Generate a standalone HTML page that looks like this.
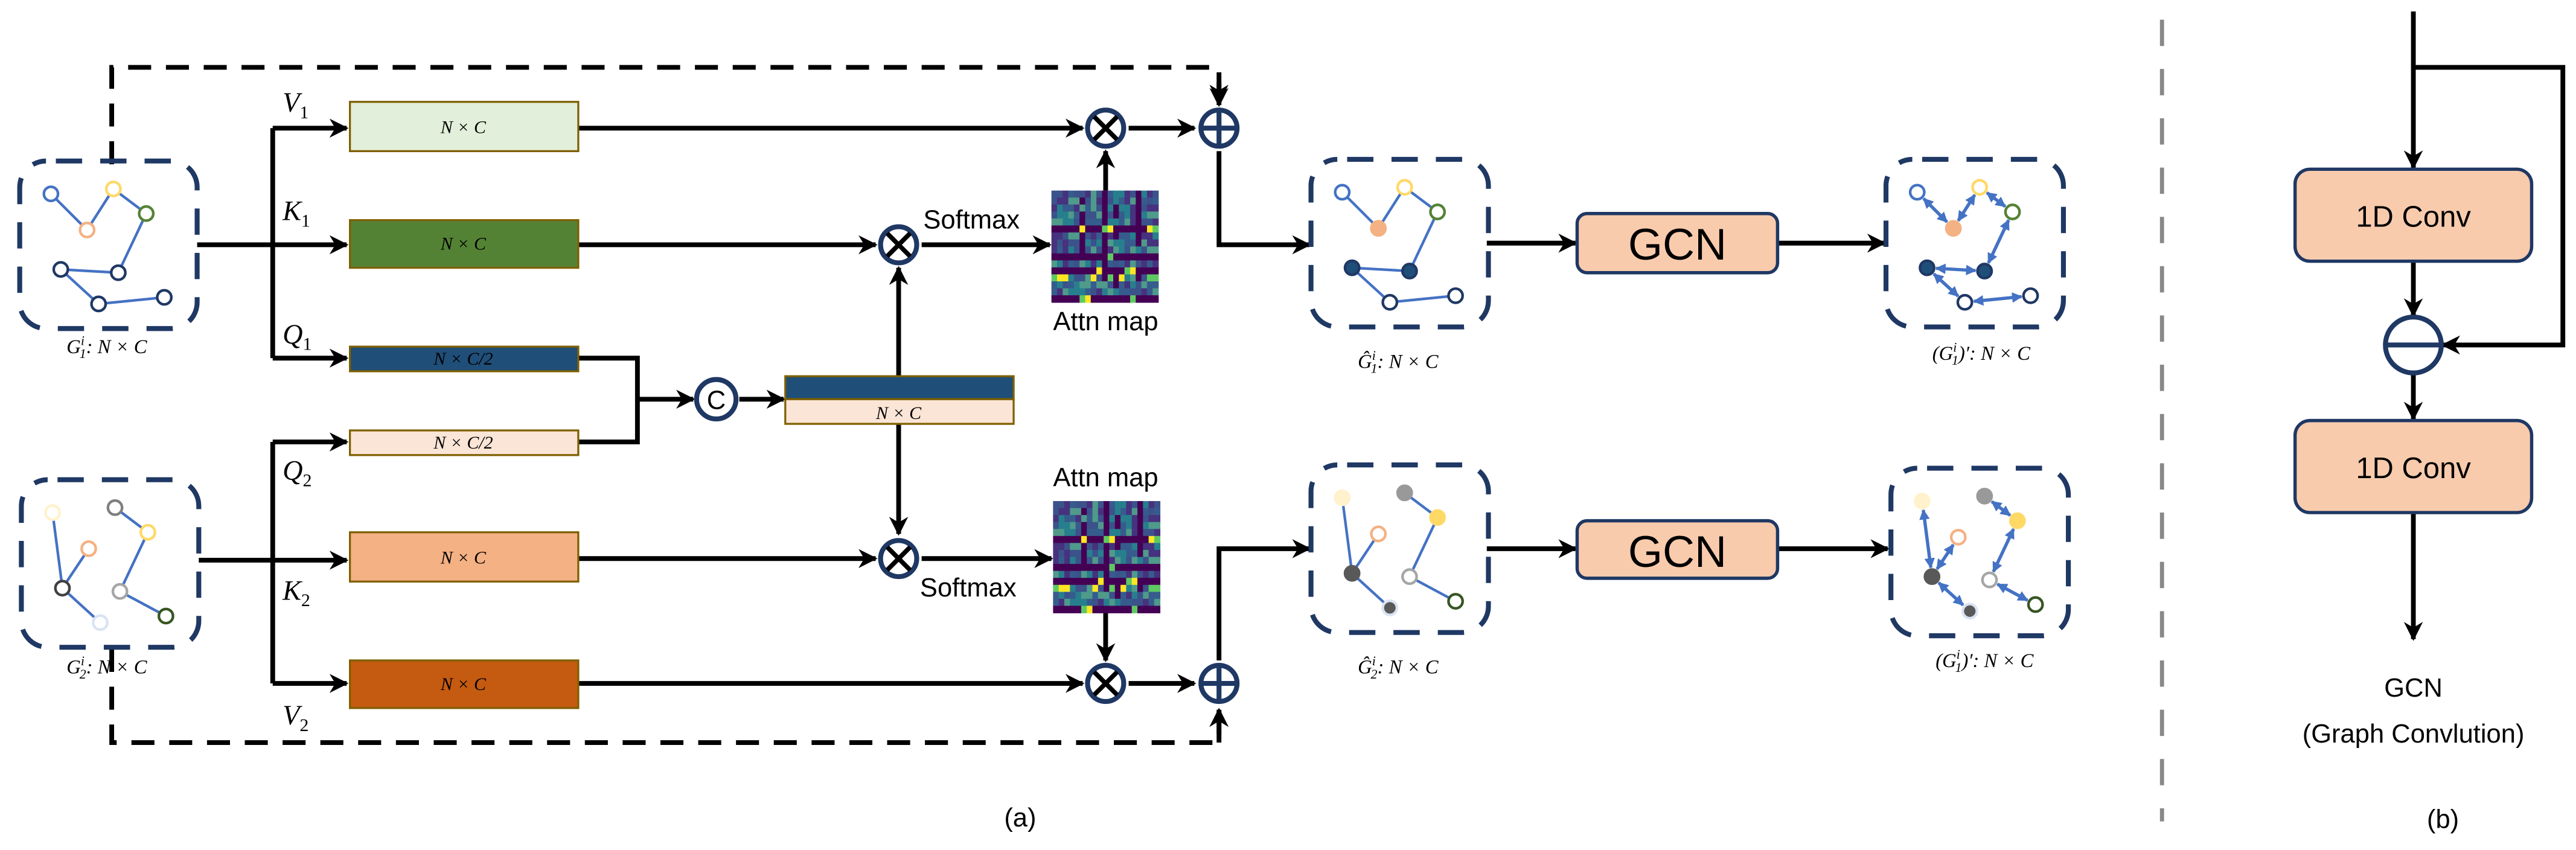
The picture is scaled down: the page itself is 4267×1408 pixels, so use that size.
<!DOCTYPE html>
<html><head><meta charset="utf-8"><style>
html,body{margin:0;padding:0;background:#fff;}
svg{display:block;}
.t{font-family:"Liberation Sans",sans-serif;fill:#000;}
.m{font-family:"Liberation Serif",serif;font-style:italic;fill:#000;}
</style></head><body>
<svg id="s" xmlns="http://www.w3.org/2000/svg" width="4267" height="1408" viewBox="0 0 1568 517.4">
<defs>
<marker id="a" viewBox="0 0 10 10" refX="9" refY="5" markerWidth="4" markerHeight="4" orient="auto-start-reverse" markerUnits="strokeWidth"><path d="M0,0 L10,5 L0,10 L3,5 z" fill="#000"/></marker>
<marker id="b" viewBox="0 0 10 10" refX="9" refY="5" markerWidth="3.2" markerHeight="3.2" orient="auto-start-reverse" markerUnits="strokeWidth"><path d="M0,0 L10,5 L0,10 z" fill="#4472c4"/></marker>
</defs>
<g fill="none" stroke="#000" stroke-width="2.9">
<path d="M68,100 V41 H742 V62" stroke-dasharray="14,9" marker-end="url(#a)"/>
<path d="M68,395 V452 H742 V432" stroke-dasharray="14,9" marker-end="url(#a)"/>
<path d="M742,452 V432" marker-end="url(#a)"/>
<path d="M742,50 V64" marker-end="url(#a)"/>
<path d="M120,149 H211" marker-end="url(#a)"/>
<path d="M166,78 V218"/>
<path d="M166,78 H211" marker-end="url(#a)"/>
<path d="M166,218 H211" marker-end="url(#a)"/>
<path d="M121,341 H211" marker-end="url(#a)"/>
<path d="M166,269 V416"/>
<path d="M166,269 H211" marker-end="url(#a)"/>
<path d="M166,416 H211" marker-end="url(#a)"/>
<path d="M352,78 H659" marker-end="url(#a)"/>
<path d="M352,149 H533" marker-end="url(#a)"/>
<path d="M352,340 H533" marker-end="url(#a)"/>
<path d="M352,416 H659" marker-end="url(#a)"/>
<path d="M352,218 H388 V269 H352"/>
<path d="M388,243 H422" marker-end="url(#a)"/>
<path d="M450,243 H477" marker-end="url(#a)"/>
<path d="M547,229 V163" marker-end="url(#a)"/>
<path d="M547,258 V325" marker-end="url(#a)"/>
<path d="M561,149 H639" marker-end="url(#a)"/>
<path d="M561,340 H640" marker-end="url(#a)"/>
<path d="M673,116 V92" marker-end="url(#a)"/>
<path d="M673,373 V402" marker-end="url(#a)"/>
<path d="M687,78 H727" marker-end="url(#a)"/>
<path d="M687,416 H727" marker-end="url(#a)"/>
<path d="M742,92 V149 H797" marker-end="url(#a)"/>
<path d="M742,402 V334 H797" marker-end="url(#a)"/>
<path d="M905,148 H959" marker-end="url(#a)"/>
<path d="M905,334 H959" marker-end="url(#a)"/>
<path d="M1082,148 H1147" marker-end="url(#a)"/>
<path d="M1082,334 H1149" marker-end="url(#a)"/>
<path d="M1469,7 V102" marker-end="url(#a)"/>
<path d="M1469,41 H1560 V210 H1487" marker-end="url(#a)"/>
<path d="M1469,159 V192" marker-end="url(#a)"/>
<path d="M1469,227 V255" marker-end="url(#a)"/>
<path d="M1469,312 V389" marker-end="url(#a)"/>
</g>
<g stroke="#7f6000" stroke-width="1.2">
<rect x="213" y="62" width="139" height="30" fill="#e2efda"/>
<rect x="213" y="134" width="139" height="29" fill="#548235"/>
<rect x="213" y="211" width="139" height="15" fill="#1f4e79"/>
<rect x="213" y="262" width="139" height="15" fill="#fbe5d6"/>
<rect x="213" y="324" width="139" height="30" fill="#f4b183"/>
<rect x="213" y="402" width="139" height="29" fill="#c55a11"/>
<rect x="478" y="229" width="139" height="14" fill="#1f4e79"/>
<rect x="478" y="243" width="139" height="15" fill="#fbe5d6"/>
</g>
<g class="m" font-size="11" text-anchor="middle">
<text x="282" y="81">N × C</text><text x="282" y="152">N × C</text>
<text x="282" y="222">N × C/2</text><text x="282" y="273">N × C/2</text>
<text x="282" y="343">N × C</text><text x="282" y="420">N × C</text>
<text x="547" y="255">N × C</text>
</g>
<g class="m" font-size="17">
<text x="172" y="68">V<tspan font-size="11" dy="4" font-style="normal">1</tspan></text>
<text x="172" y="134">K<tspan font-size="11" dy="4" font-style="normal">1</tspan></text>
<text x="172" y="209">Q<tspan font-size="11" dy="4" font-style="normal">1</tspan></text>
<text x="172" y="292">Q<tspan font-size="11" dy="4" font-style="normal">2</tspan></text>
<text x="172" y="365">K<tspan font-size="11" dy="4" font-style="normal">2</tspan></text>
<text x="172" y="441">V<tspan font-size="11" dy="4" font-style="normal">2</tspan></text>
</g>
<g class="m" font-size="12" text-anchor="middle">
<text x="65" y="215">G<tspan font-size="8" dy="-5">i</tspan><tspan font-size="8" dx="-3" dy="8">1</tspan><tspan dy="-3">: N × C</tspan></text>
<text x="65" y="410">G<tspan font-size="8" dy="-5">i</tspan><tspan font-size="8" dx="-3" dy="8">2</tspan><tspan dy="-3">: N × C</tspan></text>
<text x="851" y="224">Ĝ<tspan font-size="8" dy="-5">i</tspan><tspan font-size="8" dx="-3" dy="8">1</tspan><tspan dy="-3">: N × C</tspan></text>
<text x="851" y="410">Ĝ<tspan font-size="8" dy="-5">i</tspan><tspan font-size="8" dx="-3" dy="8">2</tspan><tspan dy="-3">: N × C</tspan></text>
<text x="1206" y="219">(G<tspan font-size="8" dy="-5">i</tspan><tspan font-size="8" dx="-3" dy="8">1</tspan><tspan dy="-3">)′: N × C</tspan></text>
<text x="1208" y="406">(G<tspan font-size="8" dy="-5">i</tspan><tspan font-size="8" dx="-3" dy="8">1</tspan><tspan dy="-3">)′: N × C</tspan></text>
</g>
<g fill="#fff" stroke="#1f3864" stroke-width="3">
<circle cx="547" cy="149" r="11"/><circle cx="547" cy="340" r="11"/>
<circle cx="673" cy="78" r="11"/><circle cx="673" cy="416" r="11"/>
<circle cx="742" cy="78" r="11"/><circle cx="742" cy="416" r="11"/>
<circle cx="436" cy="243" r="12"/>
<ellipse cx="1469" cy="210" rx="17" ry="17"/>
</g>
<g stroke="#000" stroke-width="2.8">
<path d="M540,142 l14,14 M554,142 l-14,14 M540,333 l14,14 M554,333 l-14,14 M666,71 l14,14 M680,71 l-14,14 M666,409 l14,14 M680,409 l-14,14"/>
</g>
<g stroke="#1f3864" stroke-width="3"><path d="M731,78 h22 M742,67 v22 M731,416 h22 M742,405 v22 M1452,210 h34"/></g>
<text class="t" x="436" y="249" font-size="16" text-anchor="middle">C</text>
<g id="maps"></g>
<g class="t" font-size="16">
<text x="562" y="139">Softmax</text><text x="560" y="363">Softmax</text>
<text x="673" y="201" text-anchor="middle">Attn map</text>
<text x="673" y="296" text-anchor="middle">Attn map</text>
</g>
<g fill="#f8cbad" stroke="#1f3864" stroke-width="2">
<rect x="960" y="130" width="122" height="36" rx="6"/>
<rect x="960" y="317" width="122" height="35" rx="6"/>
<rect x="1397" y="103" width="144" height="56" rx="9"/>
<rect x="1397" y="256" width="144" height="56" rx="9"/>
</g>
<g class="t" text-anchor="middle">
<text x="1021" y="158" font-size="27">GCN</text>
<text x="1021" y="345" font-size="27">GCN</text>
<text x="1469" y="138" font-size="18">1D Conv</text>
<text x="1469" y="291" font-size="18">1D Conv</text>
<text x="1469" y="424" font-size="16">GCN</text>
<text x="1469" y="452" font-size="16">(Graph Convlution)</text>
<text x="1487" y="504" font-size="16">(b)</text>
<text x="621" y="503" font-size="16">(a)</text>
</g>
<path d="M1316,12 V500" stroke="#888" stroke-width="2.5" stroke-dasharray="16,14"/>
<g id="graphs"></g>
</svg>
<script>
var NS="http://www.w3.org/2000/svg";
function el(p,t,a){var e=document.createElementNS(NS,t);for(var k in a)e.setAttribute(k,a[k]);p.appendChild(e);return e;}
var seed=7;function rnd(){seed=(seed*9301+49297)%233280;return seed/233280;}
var pal=["#440154","#46327e","#365c8d","#3b528b","#277f8e","#4f9a8a","#2e6e8e","#5ec962","#fde725","#35b779"];
var maps=document.getElementById("maps");
[[640,116],[641,305]].forEach(function(o){
 var cols=19,rows=16,w=65/cols,h=68/rows;seed=7;
 var darkR=[5,9,11,15],darkC=[5,9,11,15];
 for(var r=0;r<rows;r++)for(var c=0;c<cols;c++){
  var v=rnd(),col;
  if(darkR.indexOf(r)>=0){col=v<0.12?pal[7]:(v<0.18?pal[8]:"#440154");}
  else if(darkC.indexOf(c)>=0&&v<0.5){col="#440154";}
  else if(r==12&&v<0.4){col=v<0.2?pal[8]:pal[7];}
  else col=pal[1+Math.floor(v*5)];
  el(maps,"rect",{x:o[0]+c*w,y:o[1]+r*h,width:w+0.3,height:h+0.3,fill:col});
 }});
var P=[[19,20],[57,17],[77,32],[41,42],[25,66],[60,68],[48,87],[88,83]];
var g=document.getElementById("graphs");
function box(x,y){el(g,"rect",{x:x,y:y,width:108,height:102,rx:16,fill:"none",stroke:"#1f3864","stroke-width":3,"stroke-dasharray":"16,11","stroke-dashoffset":"-6"});}
var E1=[[0,3],[3,1],[1,2],[2,5],[4,5],[4,6],[6,7]];
var E2=[[0,4],[3,4],[4,6],[1,2],[2,5],[5,7]];
function graph(x,y,E,cols,fills,arrows){
 box(x,y);
 E.forEach(function(e){var a=P[e[0]],b=P[e[1]];
  var dx=b[0]-a[0],dy=b[1]-a[1],L=Math.sqrt(dx*dx+dy*dy),s=arrows?5.5:0;
  var at={x1:x+a[0]+dx/L*s,y1:y+a[1]+dy/L*s,x2:x+b[0]-dx/L*s,y2:y+b[1]-dy/L*s,stroke:"#4472c4","stroke-width":arrows?2:1.6};
  if(arrows){at["marker-start"]="url(#b)";at["marker-end"]="url(#b)";}
  el(g,"line",at);});
 P.forEach(function(p,i){el(g,"circle",{cx:x+p[0],cy:y+p[1],r:4.3,fill:fills[i]||"#fff",stroke:cols[i],"stroke-width":1.6});});
}
var c1=["#4472c4","#ffd966","#548235","#f4b183","#1f3864","#1f3864","#1f3864","#1f3864"];
var f1=[null,null,null,null,null,null,null,null];
var fh1=[null,null,null,"#f4b183","#1f4e79","#1f4e79",null,null];
var c2=["#fff2cc","#7f7f7f","#ffd966","#f4b183","#404040","#a6a6a6","#dae3f3","#375623"];
var fh2=["#fff2cc","#999999","#ffd966",null,"#595959",null,"#595959",null];
var ch2=["#fff2cc","#999999","#ffd966","#f4b183","#595959","#a6a6a6","#dae3f3","#375623"];
graph(12,98,E1,c1,f1,false);
graph(798,97,E1,c1,fh1,false);
graph(1148,97,E1,c1,fh1,true);
graph(13,292,E2,c2,f1,false);
graph(798,283,E2,ch2,fh2,false);
graph(1151,285,E2,ch2,fh2,true);
</script>
</body></html>
